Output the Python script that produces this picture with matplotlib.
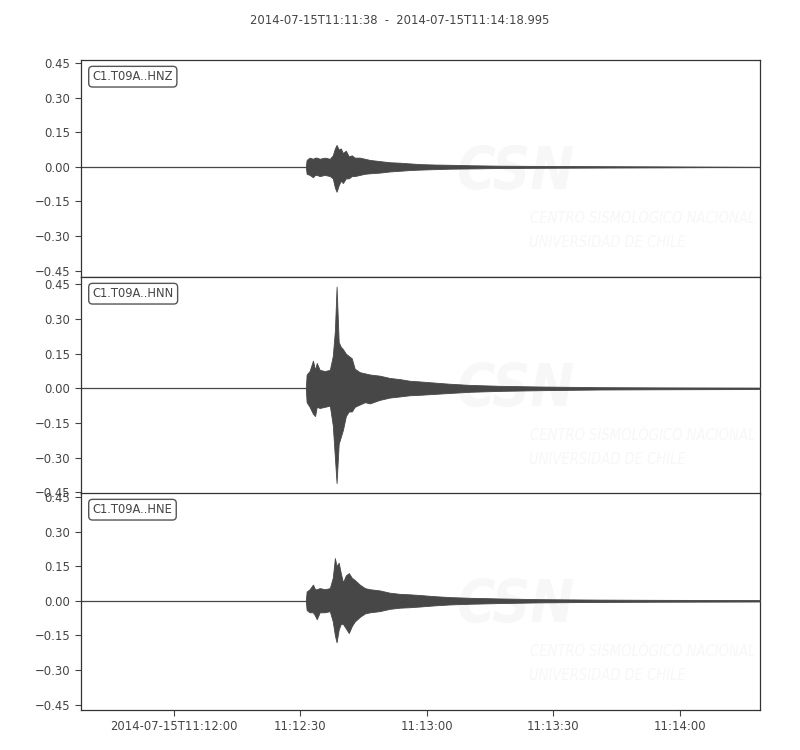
import matplotlib
matplotlib.use("Agg")
import matplotlib.pyplot as plt
import numpy as np

plt.rcParams['font.family'] = ['DejaVu Sans']
plt.rcParams['font.stretch'] = 'condensed'

title = "2014-07-15T11:11:38  -  2014-07-15T11:14:18.995"
channels = ["C1.T09A..HNZ", "C1.T09A..HNN", "C1.T09A..HNE"]
duration = 160.995  # seconds from 11:11:38

tick_pos = [22, 52, 82, 112, 142]
tick_labels = ["2014-07-15T11:12:00", "11:12:30", "11:13:00", "11:13:30", "11:14:00"]
ytick_vals = [-0.45, -0.30, -0.15, 0.00, 0.15, 0.30, 0.45]
ylims = [(-0.476, 0.463), (-0.456, 0.482), (-0.472, 0.467)]

# envelope samples (seconds from start)
t_core = [53.3, 53.5, 54.2, 55.0, 55.5, 55.9, 56.6, 57.8, 59.0, 59.7, 60.2, 60.6,
          61.1, 61.6, 62.1, 62.8, 63.5, 64.2, 64.9, 66.1, 67.3, 68.5, 70.8, 73.2,
          75.6, 77.9, 80.3, 83.8, 87.4, 92.1, 99.2, 108.7, 122.9, 137.1, 161.0]

hnz_up = [0, 0.03, 0.04, 0.035, 0.04, 0.04, 0.035, 0.04, 0.035, 0.05, 0.08, 0.095,
          0.075, 0.08, 0.06, 0.07, 0.045, 0.05, 0.04, 0.04, 0.035, 0.03, 0.025, 0.02,
          0.018, 0.015, 0.012, 0.01, 0.009, 0.007, 0.005, 0.004, 0.003, 0.002, 0.0]
hnz_lo = [0, -0.03, -0.035, -0.045, -0.035, -0.035, -0.04, -0.035, -0.04, -0.05, -0.09, -0.108,
          -0.08, -0.06, -0.07, -0.05, -0.05, -0.04, -0.04, -0.035, -0.03, -0.028, -0.025, -0.02,
          -0.017, -0.014, -0.012, -0.01, -0.008, -0.007, -0.005, -0.004, -0.003, -0.002, 0.0]

hnn_up = [0, 0.06, 0.075, 0.12, 0.08, 0.11, 0.08, 0.075, 0.08, 0.14, 0.25, 0.44,
          0.20, 0.18, 0.17, 0.15, 0.14, 0.13, 0.085, 0.07, 0.065, 0.06, 0.055, 0.045,
          0.04, 0.033, 0.03, 0.025, 0.02, 0.015, 0.011, 0.008, 0.005, 0.004, 0.003]
hnn_lo = [0, -0.06, -0.08, -0.11, -0.12, -0.08, -0.085, -0.08, -0.075, -0.16, -0.30, -0.41,
          -0.24, -0.21, -0.18, -0.12, -0.10, -0.10, -0.08, -0.07, -0.06, -0.065, -0.05, -0.04,
          -0.035, -0.03, -0.028, -0.024, -0.02, -0.015, -0.011, -0.008, -0.005, -0.004, -0.003]

hne_up = [0, 0.04, 0.05, 0.07, 0.05, 0.05, 0.055, 0.05, 0.055, 0.10, 0.185, 0.15,
          0.165, 0.12, 0.08, 0.11, 0.12, 0.10, 0.09, 0.07, 0.055, 0.05, 0.045, 0.035,
          0.03, 0.028, 0.025, 0.02, 0.016, 0.013, 0.01, 0.007, 0.005, 0.004, 0.003]
hne_lo = [0, -0.04, -0.05, -0.05, -0.065, -0.08, -0.05, -0.05, -0.045, -0.09, -0.15, -0.18,
          -0.125, -0.10, -0.10, -0.12, -0.14, -0.11, -0.09, -0.07, -0.055, -0.05, -0.045, -0.035,
          -0.03, -0.028, -0.025, -0.02, -0.016, -0.013, -0.01, -0.007, -0.005, -0.004, -0.003]

uppers = [hnz_up, hnn_up, hne_up]
lowers = [hnz_lo, hnn_lo, hne_lo]

txt_c = '#444444'
trace_c = '#474747'
wm_c = '#f7f7f7'

fig = plt.figure(figsize=(8, 7.5), dpi=100)
fig.text(0.5, 0.973, title, ha='center', va='center', fontsize=9.3, color=txt_c)

tops = [60, 277, 493]
h_px = 216.7
axes = []
for i in range(3):
    bottom = 1 - (tops[i] + h_px) / 750
    ax = fig.add_axes([81 / 800, bottom, 679 / 800, h_px / 750])
    axes.append(ax)
    # faint watermark
    ax.text(0.552, 0.48, "CSN", transform=ax.transAxes, fontsize=42, fontweight='bold',
            fontstyle='italic', color=wm_c, ha='left', va='center', zorder=0)
    ax.text(0.662, 0.27, "CENTRO SISMOLÓGICO NACIONAL", transform=ax.transAxes, fontsize=10.5,
            fontstyle='italic', color=wm_c, ha='left', va='center', zorder=0)
    ax.text(0.660, 0.16, "UNIVERSIDAD DE CHILE", transform=ax.transAxes, fontsize=10.5,
            fontstyle='italic', color=wm_c, ha='left', va='center', zorder=0)
    ax.plot([0, duration], [0, 0], color=trace_c, lw=0.9, zorder=2)
    ax.fill_between(t_core, lowers[i], uppers[i], color=trace_c, lw=0.6,
                    edgecolor=trace_c, zorder=3)
    ax.set_xlim(0, duration)
    ax.set_ylim(*ylims[i])
    ax.set_yticks(ytick_vals)
    ax.set_yticklabels([("%.2f" % v).replace('-', '\u2212') for v in ytick_vals])
    ax.tick_params(axis='both', direction='out', length=4, width=0.8, colors=txt_c,
                   labelsize=9.3)
    for s in ax.spines.values():
        s.set_color('#333333')
        s.set_linewidth(0.9)
    ax.text(0.017, 0.923, channels[i], transform=ax.transAxes, fontsize=9.2, color=txt_c,
            ha='left', va='center',
            bbox=dict(boxstyle='round,pad=0.3', fc='white', ec='#555555', lw=1))
    ax.set_xticks(tick_pos)
    if i < 2:
        ax.tick_params(axis='x', bottom=False, labelbottom=False)
    else:
        ax.set_xticklabels(tick_labels)

fig.savefig("out.png", dpi=100)
